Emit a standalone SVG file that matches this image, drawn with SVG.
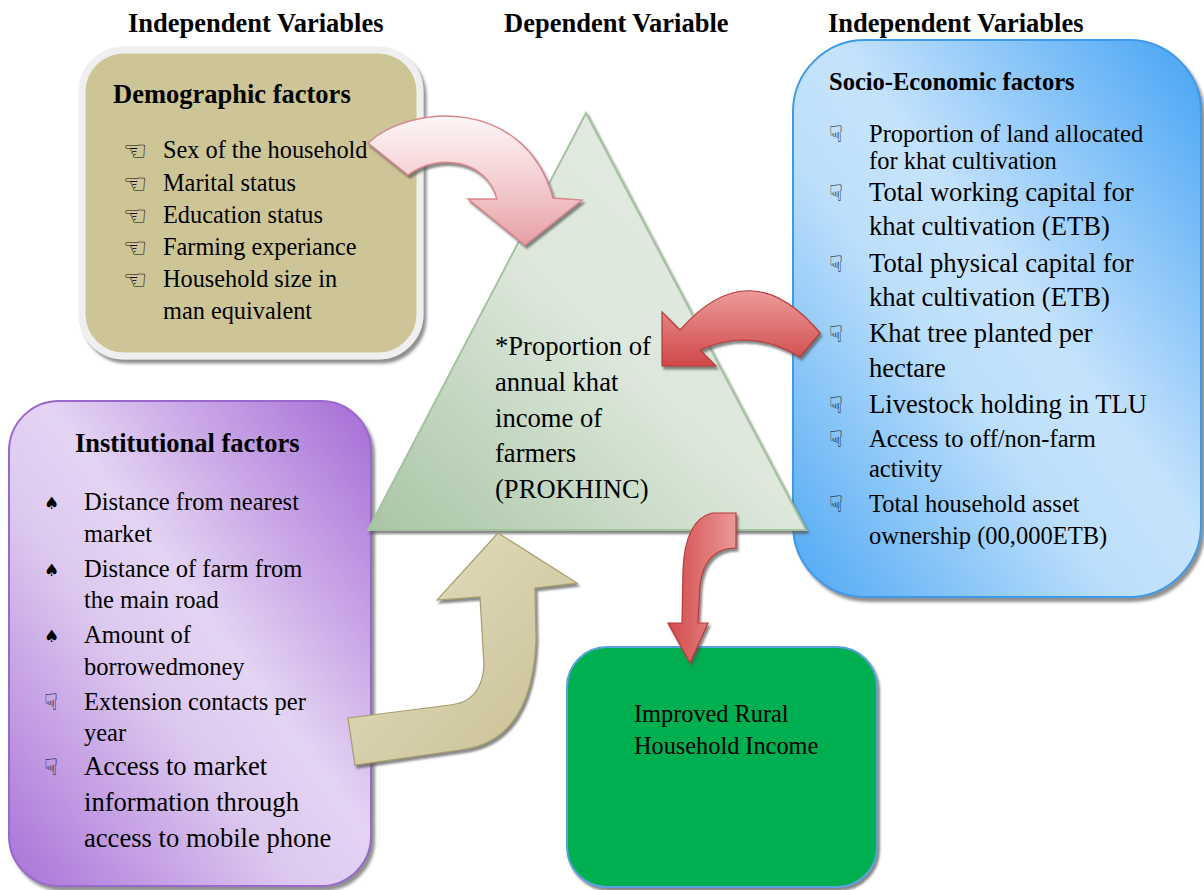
<svg xmlns="http://www.w3.org/2000/svg" width="1204" height="890" viewBox="0 0 1204 890">
<defs>
<style>
text{font-family:"Liberation Serif","Times New Roman",serif;fill:#000}
.h{font-size:26.5px;font-weight:bold}
.t{font-size:26.5px;font-weight:bold}
.s{font-size:24.5px}
.l{font-size:26.6px}
.d{font-size:24.3px}
.b{font-family:"DejaVu Sans",sans-serif;font-size:27px}
.bs{font-family:"DejaVu Sans",sans-serif;font-size:23px}
.sp{font-family:"DejaVu Sans",sans-serif;font-size:17px}
</style>
<filter id="sh" x="-10%" y="-10%" width="125%" height="125%">
<feDropShadow dx="3" dy="4" stdDeviation="1.5" flood-color="#6b6b6b" flood-opacity="0.75"/>
</filter>
<filter id="sh2" x="-10%" y="-10%" width="125%" height="125%">
<feDropShadow dx="2" dy="3" stdDeviation="1" flood-color="#555" flood-opacity="0.7"/>
</filter>
<linearGradient id="gBlue" x1="1" y1="0" x2="0" y2="1">
<stop offset="0" stop-color="#44a3f4"/>
<stop offset="0.45" stop-color="#c6e3fc"/>
<stop offset="0.6" stop-color="#bcdffb"/>
<stop offset="1" stop-color="#4ea8f4"/>
</linearGradient>
<linearGradient id="gPurple" x1="1" y1="0" x2="0" y2="1">
<stop offset="0" stop-color="#a56bd6"/>
<stop offset="0.45" stop-color="#e4d4f3"/>
<stop offset="0.6" stop-color="#ddc9ef"/>
<stop offset="1" stop-color="#a871d8"/>
</linearGradient>
<linearGradient id="gTri" x1="0" y1="1" x2="1" y2="0">
<stop offset="0" stop-color="#a8c5a5"/>
<stop offset="0.5" stop-color="#dde8db"/>
<stop offset="1" stop-color="#e3ebe2"/>
</linearGradient>
<linearGradient id="gPink" x1="0" y1="0" x2="0" y2="1">
<stop offset="0" stop-color="#fef6f6"/>
<stop offset="0.5" stop-color="#f4cfd2"/>
<stop offset="1" stop-color="#e7a0a5"/>
</linearGradient>
<linearGradient id="gRed" x1="0" y1="0" x2="0" y2="1">
<stop offset="0" stop-color="#ec9a9a"/>
<stop offset="1" stop-color="#d04848"/>
</linearGradient>
<linearGradient id="gRed2" x1="0" y1="0" x2="1" y2="0">
<stop offset="0" stop-color="#d24a4a"/>
<stop offset="1" stop-color="#eb9898"/>
</linearGradient>
<linearGradient id="gTan" x1="0" y1="0" x2="1" y2="1">
<stop offset="0" stop-color="#e6e1c4"/>
<stop offset="1" stop-color="#c8be92"/>
</linearGradient>
</defs>
<rect width="1204" height="890" fill="#ffffff"/>

<g id="headers">
<text class="h" x="128" y="32">Independent Variables</text>
<text class="h" x="504" y="32">Dependent Variable</text>
<text class="h" x="828" y="32">Independent Variables</text>
</g>

<g id="demographic">
<rect x="82" y="50" width="338" height="306" rx="42" fill="#cec596" stroke="#efefef" stroke-width="7" filter="url(#sh)"/>
<text class="t" x="113" y="103">Demographic factors</text>
<text class="b" x="123" y="160">☜</text><text class="d" x="163" y="158">Sex of the household</text>
<text class="b" x="123" y="193">☜</text><text class="d" x="163" y="191">Marital status</text>
<text class="b" x="123" y="225">☜</text><text class="d" x="163" y="223">Education status</text>
<text class="b" x="123" y="257">☜</text><text class="d" x="163" y="255">Farming experiance</text>
<text class="b" x="123" y="289">☜</text><text class="d" x="163" y="287">Household size in</text>
<text class="d" x="163" y="319">man equivalent</text>
</g>

<g id="socioeconomic">
<rect x="793" y="40" width="408" height="557" rx="72" fill="url(#gBlue)" stroke="#3d9ae8" stroke-width="2" filter="url(#sh)"/>
<text class="s" x="829" y="90" font-weight="bold">Socio-Economic factors</text>
<text class="bs" x="829" y="142">☟</text><text class="s" x="869" y="142">Proportion of land allocated</text>
<text class="s" x="869" y="169">for khat cultivation</text>
<text class="bs" x="829" y="201">☟</text><text class="l" x="869" y="201">Total working capital for</text>
<text class="l" x="869" y="235">khat cultivation (ETB)</text>
<text class="bs" x="829" y="272">☟</text><text class="l" x="869" y="272">Total physical capital for</text>
<text class="l" x="869" y="306">khat cultivation (ETB)</text>
<text class="bs" x="829" y="342">☟</text><text class="l" x="869" y="342">Khat tree planted per</text>
<text class="l" x="869" y="377">hectare</text>
<text class="bs" x="829" y="413">☟</text><text class="l" x="869" y="413">Livestock holding in TLU</text>
<text class="bs" x="829" y="447">☟</text><text class="s" x="869" y="447">Access to off/non-farm</text>
<text class="s" x="869" y="477">activity</text>
<text class="bs" x="829" y="512">☟</text><text class="s" x="869" y="512">Total household asset</text>
<text class="s" x="869" y="544">ownership (00,000ETB)</text>
</g>

<g id="institutional">
<rect x="9" y="401" width="362" height="485" rx="50" fill="url(#gPurple)" stroke="#9a67cc" stroke-width="2" filter="url(#sh)"/>
<text class="t" x="75" y="452">Institutional factors</text>
<text class="sp" x="44" y="509">♠</text><text class="s" x="84" y="510">Distance from nearest</text>
<text class="s" x="84" y="542">market</text>
<text class="sp" x="44" y="576">♠</text><text class="s" x="84" y="577">Distance of farm from</text>
<text class="s" x="84" y="608">the main road</text>
<text class="sp" x="44" y="642">♠</text><text class="s" x="84" y="643">Amount of</text>
<text class="s" x="84" y="675">borrowedmoney</text>
<text class="bs" x="44" y="710">☟</text><text class="s" x="84" y="710">Extension contacts per</text>
<text class="s" x="84" y="741">year</text>
<text class="bs" x="44" y="775">☟</text><text class="l" x="84" y="775">Access to market</text>
<text class="l" x="84" y="811">information through</text>
<text class="l" x="84" y="847">access to mobile phone</text>
</g>

<g id="dependent">
<polygon points="586,113 368,530 806,530" fill="url(#gTri)" stroke="#a4c4a0" stroke-width="2" filter="url(#sh2)"/>
<text class="l" x="495" y="355">*Proportion of</text>
<text class="l" x="495" y="391">annual khat</text>
<text class="l" x="495" y="427">income of</text>
<text class="l" x="495" y="462">farmers</text>
<text class="l" x="495" y="498">(PROKHINC)</text>
</g>

<g id="outcome">
<rect x="567" y="647" width="310" height="240" rx="40" fill="#00af50" stroke="#5aa2df" stroke-width="2" filter="url(#sh2)"/>
<text class="d" x="634" y="722">Improved Rural</text>
<text class="d" x="634" y="754">Household Income</text>
</g>

<g id="connectors">
<path d="M368,143 C410,104 525,96 553,198 L582,200 L525,245 L468,199 L497,199 C486,160 440,152 408,175 Z" fill="url(#gPink)" stroke="#d8878d" stroke-width="1.5" filter="url(#sh2)"/>
<path d="M662,312 L680,330 Q750,250 820,333 L800,357 Q750,327 700,350 L716,366 L662,366 Z" fill="url(#gRed)" stroke="#b83a3a" stroke-width="1.2" filter="url(#sh2)"/>
<path d="M712,513 L736,513 L736,548 Q705,548 700,585 L698,623 L708,623 L690,663 L668,623 L682,623 L683,570 Q685,520 712,513 Z" fill="url(#gRed2)" stroke="#b83a3a" stroke-width="1.2" filter="url(#sh2)"/>
<path d="M348,718 L450,705 Q482,702 484,665 L480,597 L437,600 L498,533 L577,583 L535,588 L536,640 Q532,742 460,750 L355,765 Z" fill="url(#gTan)" stroke="#a89d6c" stroke-width="1.2" filter="url(#sh2)"/>
</g>
</svg>
